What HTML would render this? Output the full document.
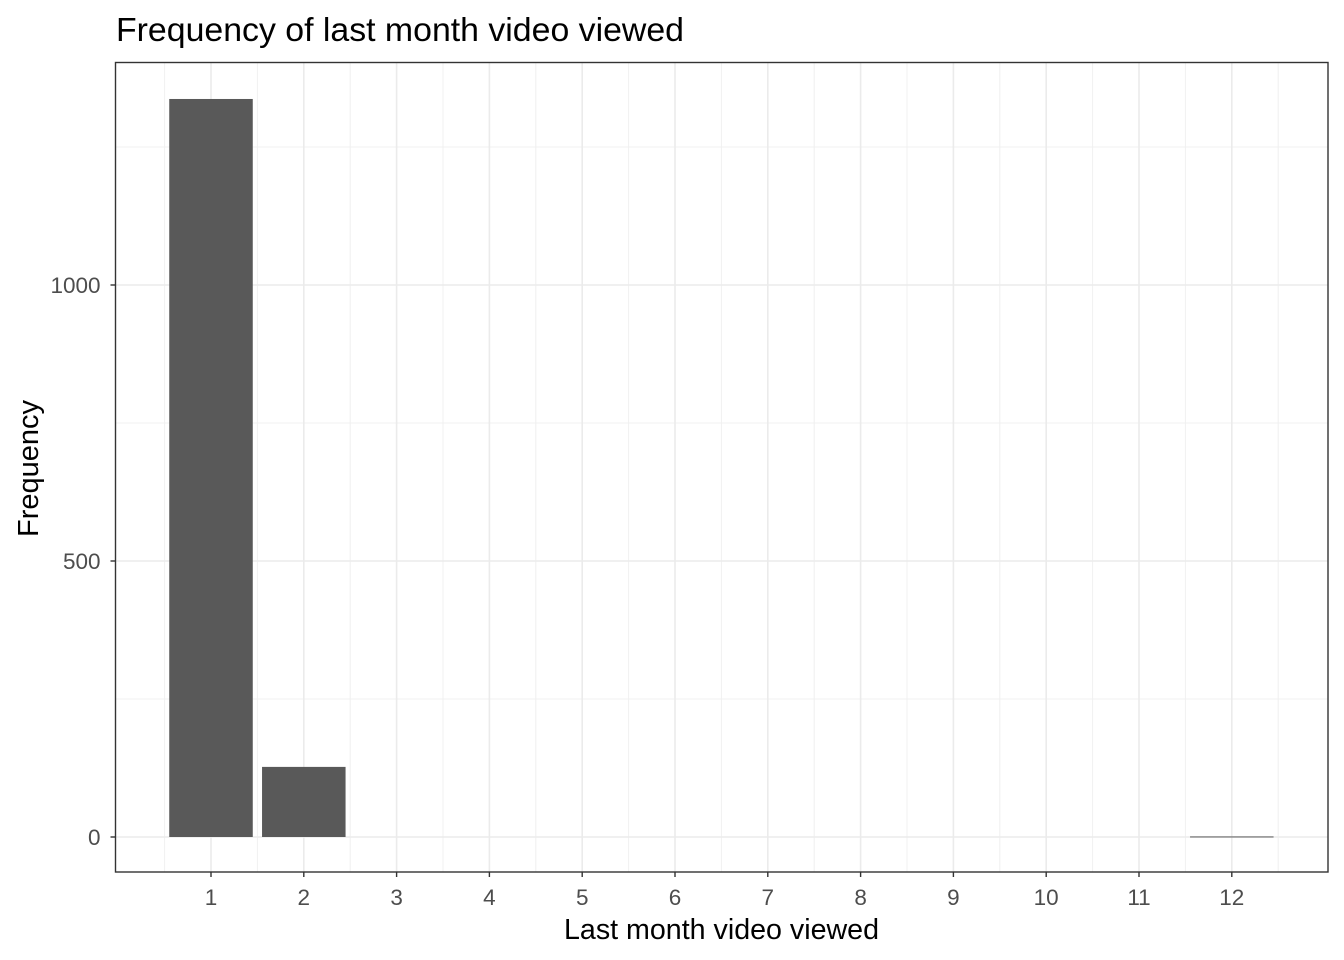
<!DOCTYPE html>
<html><head><meta charset="utf-8"><style>
html,body{margin:0;padding:0;background:#fff;}
svg{display:block;font-family:"Liberation Sans",Arial,sans-serif;}
</style></head><body>
<svg id="chart" width="1344" height="960">
<text x="116" y="41" font-size="33" textLength="568" lengthAdjust="spacingAndGlyphs" fill="#000">Frequency of last month video viewed</text>
<text x="564" y="939" font-size="28.5" textLength="315" lengthAdjust="spacingAndGlyphs" fill="#000">Last month video viewed</text>
<text transform="translate(38,537) rotate(-90)" font-size="28.5" textLength="137" lengthAdjust="spacingAndGlyphs" fill="#000">Frequency</text>
<g id="grid"></g><g id="bars"></g><g id="axes"></g>
</svg>
<script>
const categories = [1,2,3,4,5,6,7,8,9,10,11,12];
const counts = [1337,127,0,0,0,0,0,0,0,0,0,1];
const yTicks = [0,500,1000];
const yMinor = [250,750,1250];

const L=115.5,R=1328,T=62.5,B=872;
const xS=v=>211+(v-1)*92.8;
const yS=v=>837-v*0.552;
const NS='http://www.w3.org/2000/svg';
function mk(tag,attrs,parent){const e=document.createElementNS(NS,tag);for(const k in attrs)e.setAttribute(k,attrs[k]);parent.appendChild(e);return e;}
const grid=document.getElementById('grid'),bars=document.getElementById('bars'),axes=document.getElementById('axes');
mk('rect',{x:L,y:T,width:R-L,height:B-T,fill:'#fff'},grid);
yMinor.forEach(v=>{const l=mk('line',{x1:L,x2:R,y1:yS(v),y2:yS(v),stroke:'#f0f0f0','stroke-width':1},grid);

});
for(let i=0;i<=categories.length;i++){const x=xS(categories[0]-0.5+i);const l=mk('line',{x1:x,x2:x,y1:T,y2:B,stroke:'#f0f0f0','stroke-width':1},grid);

}
yTicks.forEach(v=>{const l=mk('line',{x1:L,x2:R,y1:yS(v),y2:yS(v),stroke:'#ebebeb','stroke-width':1.6},grid);

});
categories.forEach(c=>{const l=mk('line',{x1:xS(c),x2:xS(c),y1:T,y2:B,stroke:'#ebebeb','stroke-width':1.6},grid);

});
categories.forEach((c,i)=>{const v=counts[i];const y0=yS(0),y1=yS(v);
const r=mk('rect',{x:xS(c-0.45),width:xS(c+0.45)-xS(c-0.45),y:Math.min(y0,y1),height:Math.max(Math.abs(y0-y1),v>0?1:0),fill:'#595959'},bars);

});
const fr=mk('rect',{x:L,y:T,width:R-L,height:B-T,fill:'none',stroke:'#333','stroke-width':1.4},axes);


yTicks.forEach(v=>{mk('line',{x1:L-5,x2:L,y1:yS(v),y2:yS(v),stroke:'#333','stroke-width':1.4},axes);
const t=mk('text',{x:L-15,y:yS(v)+8,'font-size':22.5,fill:'#4d4d4d','text-anchor':'end'},axes);t.textContent=v;

});
categories.forEach(c=>{mk('line',{x1:xS(c),x2:xS(c),y1:B,y2:B+5,stroke:'#333','stroke-width':1.4},axes);
const t=mk('text',{x:xS(c),y:B+33,'font-size':22.5,fill:'#4d4d4d','text-anchor':'middle'},axes);t.textContent=c;

});
</script>
</body></html>
